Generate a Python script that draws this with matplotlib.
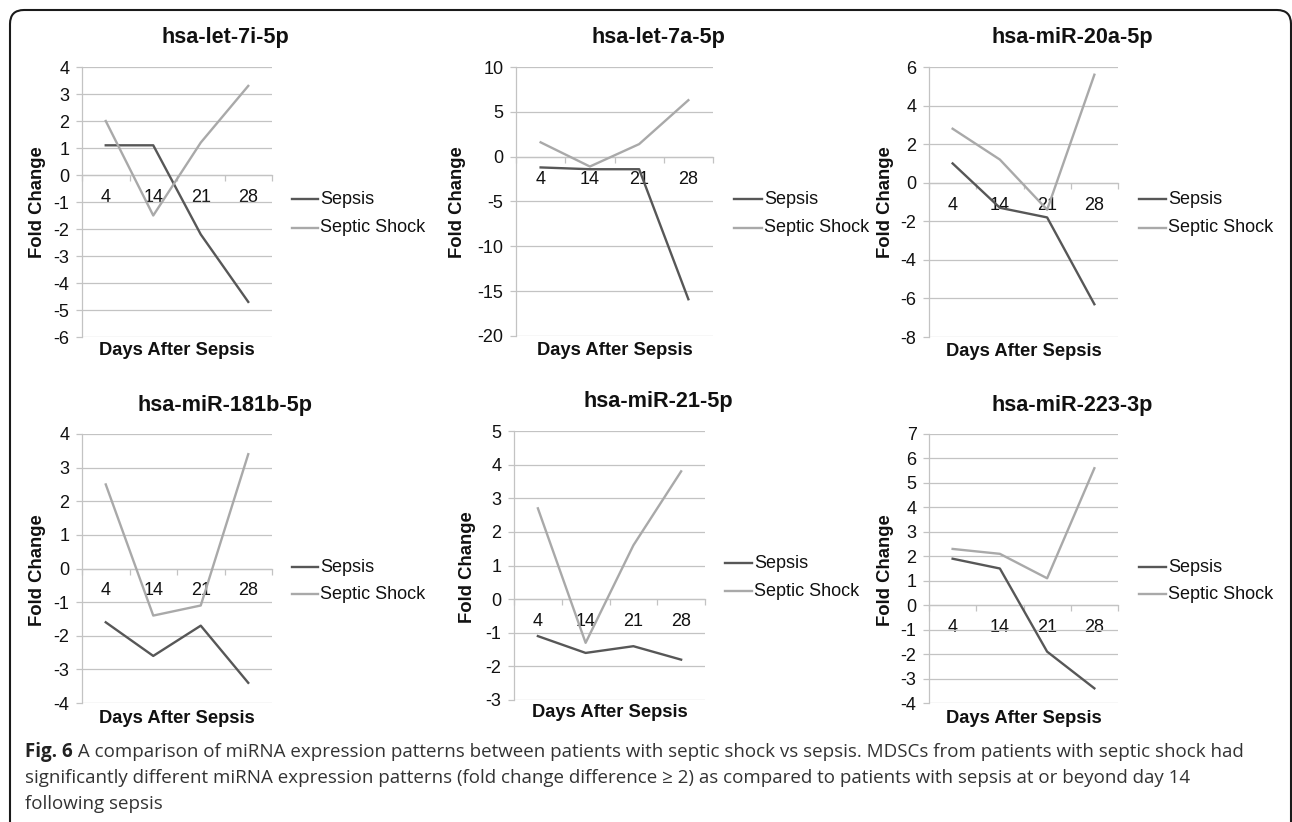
import matplotlib
matplotlib.use("Agg")
import matplotlib.pyplot as plt
import numpy as np
from matplotlib.lines import Line2D
from matplotlib.patches import FancyBboxPatch
from matplotlib.transforms import IdentityTransform

plt.rcParams["font.family"] = ["Liberation Sans", "DejaVu Sans"]
plt.rcParams["axes.unicode_minus"] = False

W, H = 1292, 822

# Datos (fold change por dia)
days = ["4", "14", "21", "28"]
series_names = ["Sepsis", "Septic Shock"]
mirnas = ["hsa-let-7i-5p", "hsa-let-7a-5p", "hsa-miR-20a-5p",
          "hsa-miR-181b-5p", "hsa-miR-21-5p", "hsa-miR-223-3p"]

let7i_sepsis = [1.1, 1.1, -2.2, -4.7]
let7i_shock = [2.0, -1.5, 1.2, 3.3]
let7a_sepsis = [-1.2, -1.4, -1.4, -15.9]
let7a_shock = [1.6, -1.1, 1.4, 6.3]
mir20a_sepsis = [1.0, -1.3, -1.8, -6.3]
mir20a_shock = [2.8, 1.2, -1.4, 5.6]
mir181b_sepsis = [-1.6, -2.6, -1.7, -3.4]
mir181b_shock = [2.5, -1.4, -1.1, 3.4]
mir21_sepsis = [-1.1, -1.6, -1.4, -1.8]
mir21_shock = [2.7, -1.3, 1.6, 3.8]
mir223_sepsis = [1.9, 1.5, -1.9, -3.4]
mir223_shock = [2.3, 2.1, 1.1, 5.6]

sepsis_data = [let7i_sepsis, let7a_sepsis, mir20a_sepsis,
               mir181b_sepsis, mir21_sepsis, mir223_sepsis]
shock_data = [let7i_shock, let7a_shock, mir20a_shock,
              mir181b_shock, mir21_shock, mir223_shock]

# rango del eje y: (min, max, paso)
y_ranges = [(-6, 4, 1), (-20, 10, 5), (-8, 6, 2),
            (-4, 4, 1), (-3, 5, 1), (-4, 7, 1)]

caption_bold = "Fig. 6"
caption_lines = [
    " A comparison of miRNA expression patterns between patients with septic shock vs sepsis. MDSCs from patients with septic shock had",
    "significantly different miRNA expression patterns (fold change difference \u2265 2) as compared to patients with sepsis at or beyond day 14",
    "following sepsis",
]

SEPSIS_COLOR = "#575757"
SHOCK_COLOR = "#a9a9a9"
GRID_COLOR = "#c3c3c3"

# posiciones en pixeles (x0, y0, x1, y1), y medida desde arriba
axes_px = [(82, 67, 272, 337), (516, 67, 713, 336), (929, 67, 1118, 337),
           (82, 434, 272, 703), (514, 431, 705, 700), (929, 434, 1118, 703)]
title_px = [(225, 37), (658, 37), (1072, 37),
            (225, 405), (658, 401), (1072, 405)]
ylabel_px = [(37, 202), (458, 202), (885, 202),
             (38, 570), (468, 567), (885, 570)]
xlabel_y = [350, 350, 351, 718, 712, 718]
legend_px = [(292, 318, 199, 228), (734, 762, 199, 228), (1139, 1166, 199, 228),
             (292, 318, 567, 594), (725, 752, 563, 591), (1139, 1166, 567, 594)]


def fx(x):
    return x / W


def fy(y):
    return 1 - y / H


def main():
    fig = plt.figure(figsize=(W / 100, H / 100), dpi=100)

    # marco redondeado
    frame = FancyBboxPatch((10, -30), 1281, 842,
                           boxstyle="round,pad=0,rounding_size=14",
                           transform=IdentityTransform(),
                           facecolor="none", edgecolor="#1a1a1a", lw=1.5)
    fig.add_artist(frame)

    x = np.arange(len(days))
    for i in range(6):
        x0, y0, x1, y1 = axes_px[i]
        ax = fig.add_axes([fx(x0), fy(y1), (x1 - x0) / W, (y1 - y0) / H])
        lo, hi, step = y_ranges[i]

        ax.plot(x, sepsis_data[i], color=SEPSIS_COLOR, lw=1.7, zorder=3)
        ax.plot(x, shock_data[i], color=SHOCK_COLOR, lw=1.7, zorder=3)

        ax.set_xlim(-0.5, 3.5)
        ax.set_ylim(lo, hi)
        ax.set_yticks(np.arange(lo, hi + step, step))
        ax.yaxis.grid(True, color=GRID_COLOR, lw=0.9)
        ax.set_axisbelow(True)

        for side in ["top", "right"]:
            ax.spines[side].set_visible(False)
        ax.spines["left"].set_color(GRID_COLOR)
        ax.spines["left"].set_linewidth(0.9)
        ax.spines["bottom"].set_position(("data", 0))
        ax.spines["bottom"].set_color(GRID_COLOR)
        ax.spines["bottom"].set_linewidth(0.9)
        ax.spines["bottom"].set_zorder(1.5)

        ax.set_xticks(x)
        ax.set_xticklabels(days)
        ax.set_xticks(np.arange(-0.5, 4, 1), minor=True)
        ax.tick_params(axis="x", which="major", length=0, pad=10,
                       labelsize=13, labelcolor="#111111")
        ax.tick_params(axis="x", which="minor", length=4, width=0.9,
                       color=GRID_COLOR, direction="out")
        ax.tick_params(axis="y", length=4, width=0.9, color=GRID_COLOR,
                       pad=5, labelsize=13, labelcolor="#111111")

        tx, ty = title_px[i]
        fig.text(fx(tx), fy(ty), mirnas[i], ha="center", va="center",
                 fontsize=15.6, fontweight="bold", color="#111111")
        lx, ly = ylabel_px[i]
        fig.text(fx(lx), fy(ly), "Fold Change", ha="center", va="center",
                 rotation=90, fontsize=13.3, fontweight="bold", color="#111111")
        fig.text(fx((x0 + x1) / 2), fy(xlabel_y[i]), "Days After Sepsis",
                 ha="center", va="center", fontsize=13.2, fontweight="bold",
                 color="#111111")

        # leyenda a mano
        h0, h1, ys, yk = legend_px[i]
        for name, color, yy in zip(series_names, [SEPSIS_COLOR, SHOCK_COLOR], [ys, yk]):
            fig.add_artist(Line2D([fx(h0), fx(h1)], [fy(yy), fy(yy)],
                                  color=color, lw=1.7))
            fig.text(fx(h1 + 2), fy(yy), name, ha="left", va="center",
                     fontsize=13, color="#111111")

    # pie de figura, ajustando el tamano al ancho de la primera linea
    cap_font = ["Open Sans", "Noto Sans", "DejaVu Sans"]
    renderer = fig.canvas.get_renderer()
    size = 12.0
    target = 1235 - 25
    probe_b = fig.text(0, 0, caption_bold, fontsize=size, fontweight="bold", family=cap_font)
    probe_n = fig.text(0, 0, caption_lines[0], fontsize=size, family=cap_font)
    wb = probe_b.get_window_extent(renderer).width
    wn = probe_n.get_window_extent(renderer).width
    probe_b.remove()
    probe_n.remove()
    size = size * target / (wb + wn)

    baselines = [757, 783, 809]
    tb = fig.text(fx(25), fy(baselines[0]), caption_bold, fontsize=size,
                  fontweight="bold", family=cap_font, color="#222222", va="baseline")
    bb = tb.get_window_extent(renderer)
    fig.text(fx(bb.x1), fy(baselines[0]), caption_lines[0], fontsize=size,
             family=cap_font, color="#333333", va="baseline")
    for line, yb in zip(caption_lines[1:], baselines[1:]):
        fig.text(fx(25), fy(yb), line, fontsize=size, family=cap_font,
                 color="#333333", va="baseline")

    fig.savefig("out.png", dpi=100, facecolor="white")
    plt.close(fig)


if __name__ == "__main__":
    main()
